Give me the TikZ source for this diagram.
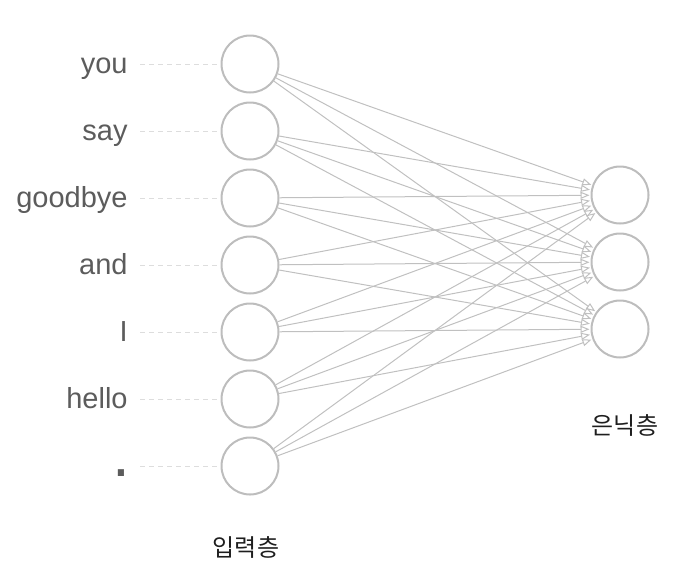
\documentclass[tikz,border=0pt]{standalone}
\usepackage{fontspec}
\setmainfont{Liberation Sans}
\newfontfamily\kofont{Noto Sans CJK KR}
\usetikzlibrary{arrows.meta}
\usetikzlibrary{positioning}
\usepackage{xcolor}
\definecolor{wordgray}{HTML}{5C5C5C}
\definecolor{ringgray}{HTML}{BDBDBD}
\definecolor{edgegray}{HTML}{C0C0C0}
\definecolor{guidegray}{HTML}{DDDDDD}
\definecolor{layertext}{HTML}{1E1E1E}

\begin{document}
\begin{tikzpicture}[x=.5pt,y=-.5pt,
  neuron/.style={circle,draw=ringgray,line width=1pt,minimum size=28.5pt,inner sep=0pt},
  word/.style={anchor=base east,inner sep=0pt,inner xsep=6pt,text=wordgray,font=\fontsize{14.5}{16}\selectfont},
  guide/.style={draw=guidegray,line width=.5pt,dash pattern=on 2.5pt off 2pt},
  wire/.style={draw=edgegray,line width=.5pt,shorten >=.5pt,-{Triangle[open,length=4.5pt,width=3.5pt]}},
  layername/.style={text=layertext,font=\kofont\fontsize{12}{14}\selectfont}]
\useasboundingbox (0,0) rectangle (684,568);
% input layer
\node[neuron] (in1) at (250,64) {};
\node[neuron] (in2) at (250,131) {};
\node[neuron] (in3) at (250,198) {};
\node[neuron] (in4) at (250,265) {};
\node[neuron] (in5) at (250,332) {};
\node[neuron] (in6) at (250,399) {};
\node[neuron] (in7) at (250,466) {};
% hidden layer
\node[neuron] (hid1) at (620,195) {};
\node[neuron] (hid2) at (620,262) {};
\node[neuron] (hid3) at (620,329) {};
% words
\node[word] (word1) at (140,73.5) {you};
\node[word] (word2) at (140,140.5) {say};
\node[word] (word3) at (140,207.5) {goodbye};
\node[word] (word4) at (140,274.5) {and};
\node[word] (word5) at (140,341.5) {I};
\node[word] (word6) at (140,408.5) {hello};
\node[word,font=\fontsize{32}{34}\selectfont,inner xsep=2pt] (word7) at (135,476) {.};
\draw[guide] (word1.east |- in1)--(in1);
\draw[guide] (word2.east |- in2)--(in2);
\draw[guide] (word3.east |- in3)--(in3);
\draw[guide] (word4.east |- in4)--(in4);
\draw[guide] (word5.east |- in5)--(in5);
\draw[guide] (word6.east |- in6)--(in6);
\draw[guide] (word1.east |- in7)--(in7);
% weights
\draw[wire] (in1)--(hid1); \draw[wire] (in1)--(hid2); \draw[wire] (in1)--(hid3);
\draw[wire] (in2)--(hid1); \draw[wire] (in2)--(hid2); \draw[wire] (in2)--(hid3);
\draw[wire] (in3)--(hid1); \draw[wire] (in3)--(hid2); \draw[wire] (in3)--(hid3);
\draw[wire] (in4)--(hid1); \draw[wire] (in4)--(hid2); \draw[wire] (in4)--(hid3);
\draw[wire] (in5)--(hid1); \draw[wire] (in5)--(hid2); \draw[wire] (in5)--(hid3);
\draw[wire] (in6)--(hid1); \draw[wire] (in6)--(hid2); \draw[wire] (in6)--(hid3);
\draw[wire] (in7)--(hid1); \draw[wire] (in7)--(hid2); \draw[wire] (in7)--(hid3);
% layer names
\node[layername] (inname) at (246,547) {입력층};
\node[layername] (hidname) at (625,425) {은닉층};
\end{tikzpicture}
\end{document}
